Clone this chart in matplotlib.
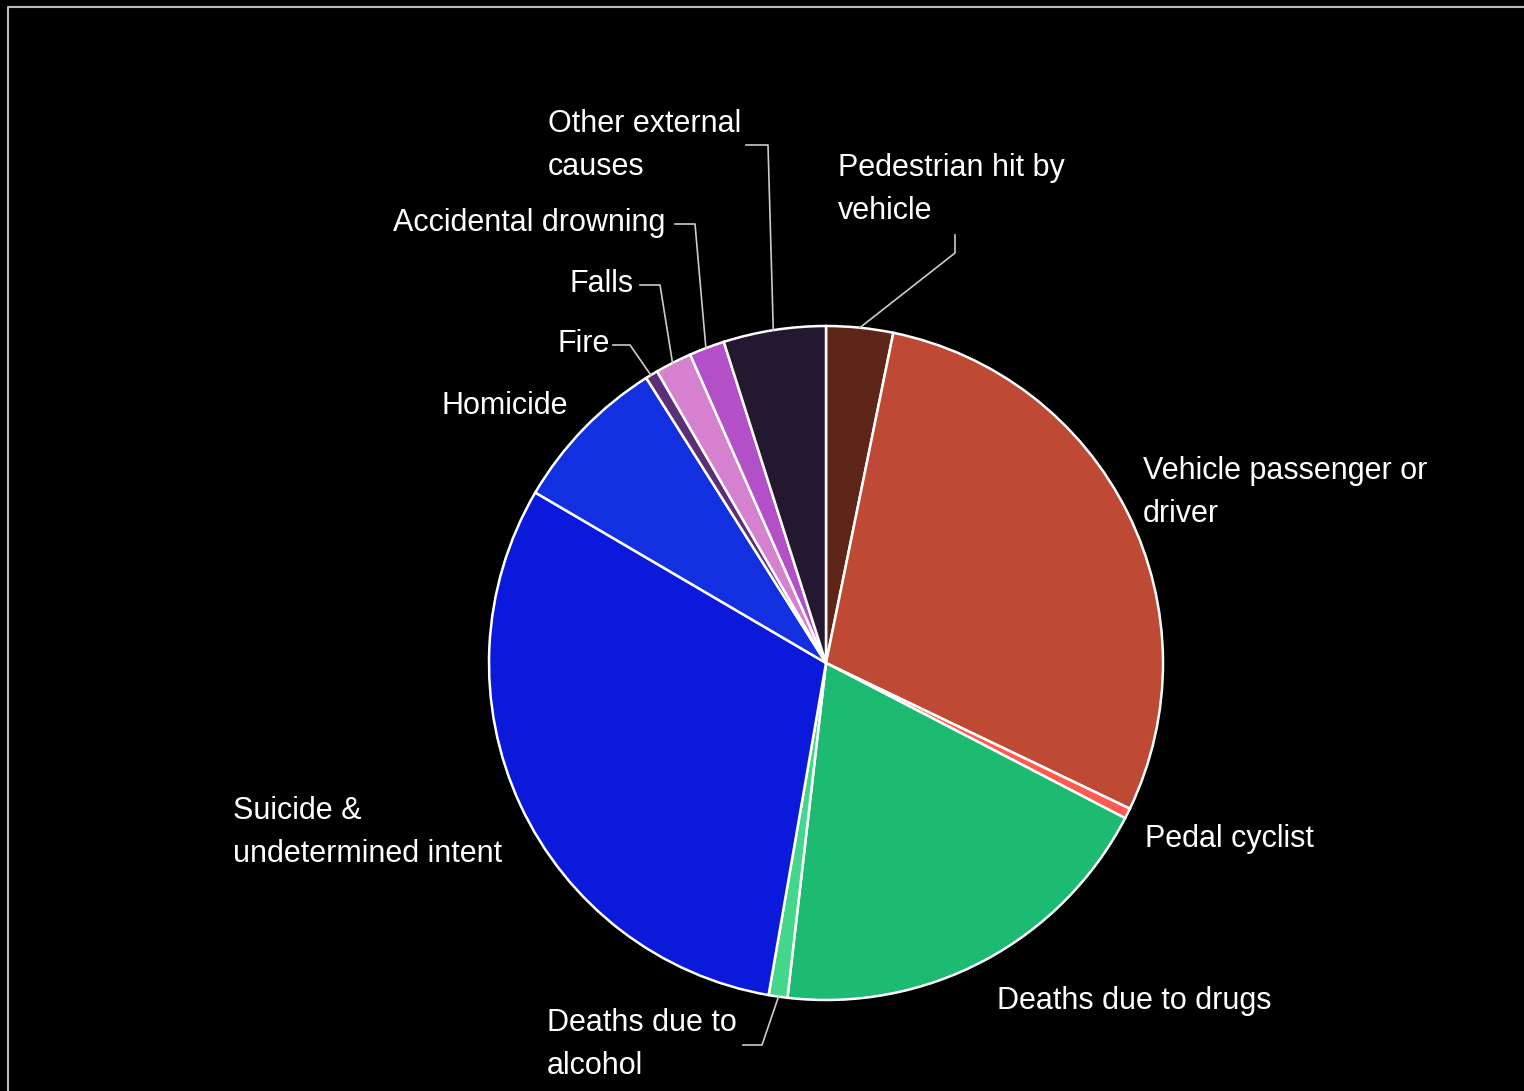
import numpy as np
import matplotlib.pyplot as plt

# shares of deaths, clockwise from 12 o'clock
causes = ["Pedestrian hit by\nvehicle", "Vehicle passenger or\ndriver", "Pedal cyclist",
          "Deaths due to drugs", "Deaths due to\nalcohol", "Suicide &\nundetermined intent",
          "Homicide", "Fire", "Falls", "Accidental drowning", "Other external\ncauses"]
shares = [3.2, 28.9, 0.5, 19.2, 0.9, 30.7, 7.6, 0.6, 1.75, 1.7, 4.9]
colors = ["#5E2618", "#BE4935", "#FF5A50", "#1DBA72", "#44D68A", "#0B19DA",
          "#1230E0", "#5A2F78", "#D681D0", "#B350C8", "#241830"]

W, H = 1524, 1091
fig = plt.figure(figsize=(W / 100, H / 100), dpi=100, facecolor="black")
ax = fig.add_axes([0, 0, 1, 1])
ax.set_facecolor("black")

cx, cy, R = 826, H - 663, 337
ax.pie(shares, colors=colors, startangle=90, counterclock=False, center=(cx, cy),
       radius=R, wedgeprops=dict(edgecolor="white", linewidth=1.8), frame=True)
ax.set_xlim(0, W)
ax.set_ylim(0, H)
ax.set_aspect("equal")
ax.axis("off")

# frame line
ax.plot([8, 8, W], [0, H - 7, H - 7], color="#bbbbbb", lw=1.5, clip_on=False)

font = dict(color="white", fontsize=22, family=["Liberation Sans", "DejaVu Sans"],
            linespacing=1.58)

# label anchors (x, y_top in image px)
label_pos = {
    0: (838, 153),
    1: (1143, 456),
    2: (1145, 824),
    3: (997, 986),
    4: (547, 1008),
    5: (233, 796),
    6: (442, 391),
    7: (558, 329),
    8: (570, 269),
    9: (393, 208),
    10: (548, 109),
}
for i, (x, yt) in label_pos.items():
    ax.text(x, H - yt, causes[i], ha="left", va="top", **font)

# leader lines: elbow points (image px) to the middle of the wedge edge
cum = np.cumsum([0] + shares)
mid = {i: 90 - 360 * (cum[i] + cum[i + 1]) / 2 / 100 for i in range(len(shares))}
elbows = {
    0: [(955, 235), (955, 253)],
    4: [(743, 1045), (762, 1045)],
    7: [(613, 345), (630, 345)],
    8: [(640, 285), (660, 285)],
    9: [(675, 224), (695, 224)],
    10: [(746, 145), (768, 145)],
}
for i, pts in elbows.items():
    a = np.deg2rad(mid[i])
    ex, ey = cx + R * np.cos(a), cy + R * np.sin(a)
    xs = [p[0] for p in pts] + [ex]
    ys = [H - p[1] for p in pts] + [ey]
    ax.plot(xs, ys, color="#cccccc", lw=1.2)

fig.savefig("out.png", dpi=100, facecolor="black")
